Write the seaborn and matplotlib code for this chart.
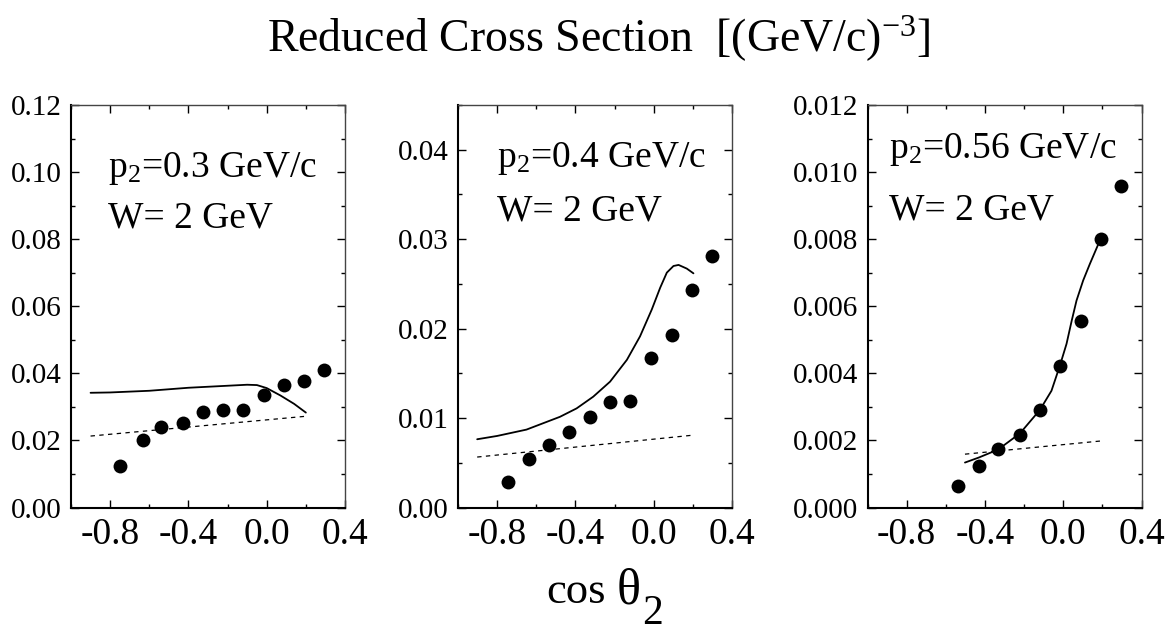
import matplotlib
matplotlib.use("Agg")
import matplotlib.pyplot as plt
import seaborn as sns
import pandas as pd
from matplotlib.ticker import MultipleLocator, FormatStrFormatter

# ---------------- data ----------------
# panel 1: p2 = 0.3 GeV/c
p1_x = [-0.749, -0.633, -0.538, -0.426, -0.327, -0.225, -0.123, -0.015, 0.089, 0.192, 0.294]
p1_y = [0.0123, 0.0202, 0.0240, 0.0251, 0.0284, 0.0291, 0.0290, 0.0335, 0.0366, 0.0378, 0.0410]
p1_solid_x = [-0.90, -0.80, -0.60, -0.40, -0.20, -0.10, -0.05, 0.00, 0.07, 0.14, 0.20]
p1_solid_y = [0.0342, 0.0343, 0.0348, 0.0357, 0.0363, 0.0366, 0.0365, 0.0356, 0.0334, 0.0309, 0.0283]
p1_dash_x = [-0.90, 0.20]
p1_dash_y = [0.0213, 0.0272]

# panel 2: p2 = 0.4 GeV/c
p2_x = [-0.742, -0.638, -0.535, -0.433, -0.326, -0.222, -0.119, -0.013, 0.094, 0.197, 0.299]
p2_y = [0.00287, 0.00542, 0.00703, 0.00845, 0.01010, 0.01175, 0.01190, 0.01673, 0.01925, 0.02435, 0.02810]
p2_solid_x = [-0.902, -0.80, -0.650, -0.479, -0.394, -0.309, -0.223, -0.137, -0.070, -0.010,
              0.033, 0.067, 0.101, 0.127, 0.169, 0.203]
p2_solid_y = [0.00763, 0.0080, 0.00871, 0.01014, 0.01108, 0.01239, 0.01407, 0.01651, 0.01913, 0.02213,
              0.02457, 0.02626, 0.02700, 0.02712, 0.02671, 0.02618]
p2_dash_x = [-0.902, 0.198]
p2_dash_y = [0.00564, 0.00808]

# panel 3: p2 = 0.56 GeV/c
p3_x = [-0.536, -0.431, -0.332, -0.221, -0.119, -0.017, 0.090, 0.191, 0.294]
p3_y = [0.00065, 0.00124, 0.00173, 0.00216, 0.00291, 0.00423, 0.00556, 0.00801, 0.00959]
p3_solid_x = [-0.502, -0.431, -0.332, -0.221, -0.119, -0.060, -0.017, 0.017, 0.043, 0.068, 0.102, 0.136, 0.191]
p3_solid_y = [0.00134, 0.00149, 0.00173, 0.00221, 0.00291, 0.00348, 0.00423, 0.00488, 0.00556, 0.00617,
              0.00677, 0.00726, 0.00801]
p3_dash_x = [-0.502, 0.204]
p3_dash_y = [0.00159, 0.00199]

panel_labels = ["p$_2$=0.3 GeV/c", "p$_2$=0.4 GeV/c", "p$_2$=0.56 GeV/c"]
w_label = "W= 2 GeV"
x_ticks = [-0.8, -0.4, 0.0, 0.4]
y_limits = [(0, 0.12), (0, 0.045), (0, 0.012)]
y_major = [0.02, 0.01, 0.002]
y_fmt = ["%.2f", "%.2f", "%.3f"]

# ---------------- style ----------------
sns.set_style("ticks")
plt.rcParams["font.family"] = ["Liberation Serif", "DejaVu Serif"]
plt.rcParams["mathtext.fontset"] = "custom"
plt.rcParams["mathtext.rm"] = "Liberation Serif"
plt.rcParams["mathtext.it"] = "Liberation Serif:italic"
plt.rcParams["axes.unicode_minus"] = False
for k in ["text.color", "axes.labelcolor", "xtick.color", "ytick.color", "axes.edgecolor"]:
    plt.rcParams[k] = "black"

fig = plt.figure(figsize=(11.73, 6.43), dpi=100)
fig.patch.set_facecolor("white")

lefts = [71 / 1173, 458 / 1173, 867.5 / 1173]
bottom = (643 - 507.5) / 643
height = (507.5 - 105) / 643
width = 274 / 1173

data = [
    (p1_x, p1_y, p1_solid_x, p1_solid_y, p1_dash_x, p1_dash_y),
    (p2_x, p2_y, p2_solid_x, p2_solid_y, p2_dash_x, p2_dash_y),
    (p3_x, p3_y, p3_solid_x, p3_solid_y, p3_dash_x, p3_dash_y),
]
text_pos = [(0.136, 0.822, 0.695), (0.142, 0.846, 0.714), (0.080, 0.868, 0.715)]

for i, (px, py, sx, sy, dx, dy) in enumerate(data):
    ax = fig.add_axes([lefts[i], bottom, width, height])
    ax.set_facecolor("white")
    pts = pd.DataFrame({"x": px, "y": py})
    sol = pd.DataFrame({"x": sx, "y": sy})
    das = pd.DataFrame({"x": dx, "y": dy})
    sns.lineplot(data=sol, x="x", y="y", ax=ax, color="black", lw=1.3,
                 estimator=None, sort=False)
    sns.lineplot(data=das, x="x", y="y", ax=ax, color="black", lw=0.9,
                 estimator=None, sort=False, linestyle=(0, (3.5, 3.5)))
    sns.scatterplot(data=pts, x="x", y="y", ax=ax, color="black", s=100,
                    edgecolor="black", linewidth=0, zorder=5)
    ax.set_xlim(-1.0, 0.4)
    ax.set_ylim(*y_limits[i])
    ax.set_xticks(x_ticks)
    ax.xaxis.set_major_formatter(FormatStrFormatter("%.1f"))
    ax.xaxis.set_minor_locator(MultipleLocator(0.2))
    ax.yaxis.set_major_locator(MultipleLocator(y_major[i]))
    ax.yaxis.set_minor_locator(MultipleLocator(y_major[i] / 2))
    ax.yaxis.set_major_formatter(FormatStrFormatter(y_fmt[i]))
    ax.set_xlabel("")
    ax.set_ylabel("")
    ax.tick_params(which="both", direction="in", top=True, right=True, color="black", width=1.0)
    ax.tick_params(which="major", length=6)
    ax.tick_params(which="minor", length=3)
    ax.tick_params(axis="y", labelsize=21, pad=7, labelcolor="black")
    ax.tick_params(axis="x", labelsize=27, pad=7, labelcolor="black")
    for s in ["left", "bottom"]:
        ax.spines[s].set_linewidth(1.5)
        ax.spines[s].set_color("black")
    for s in ["top", "right"]:
        ax.spines[s].set_linewidth(1.0)
        ax.spines[s].set_color("#444444")
        ax.spines[s].set_visible(True)
    tx, ty1, ty2 = text_pos[i]
    ax.text(tx, ty1, panel_labels[i], transform=ax.transAxes, fontsize=27,
            ha="left", va="baseline", color="black")
    ax.text(tx, ty2, w_label, transform=ax.transAxes, fontsize=27,
            ha="left", va="baseline", color="black")

fig.text(0.51, 1 - 52 / 643, r"Reduced Cross Section  [(GeV/c)$^{-3}$]",
         fontsize=33, ha="center", va="baseline", color="black")

# x label "cos θ2" with Origin-style large subscript
fig.text(546 / 1173, 1 - 603 / 643, "cos", fontsize=32, ha="left", va="baseline", color="black")
th = fig.text(617 / 1173, 1 - 603 / 643, "θ", fontsize=36, ha="left", va="baseline", color="black")
fig.canvas.draw()
bb = th.get_window_extent(renderer=fig.canvas.get_renderer())
fig.text((bb.x1 + 1) / 1173, 1 - 624 / 643, "2", fontsize=30, ha="left", va="baseline", color="black")

fig.savefig("out.png", dpi=100, facecolor="white")
